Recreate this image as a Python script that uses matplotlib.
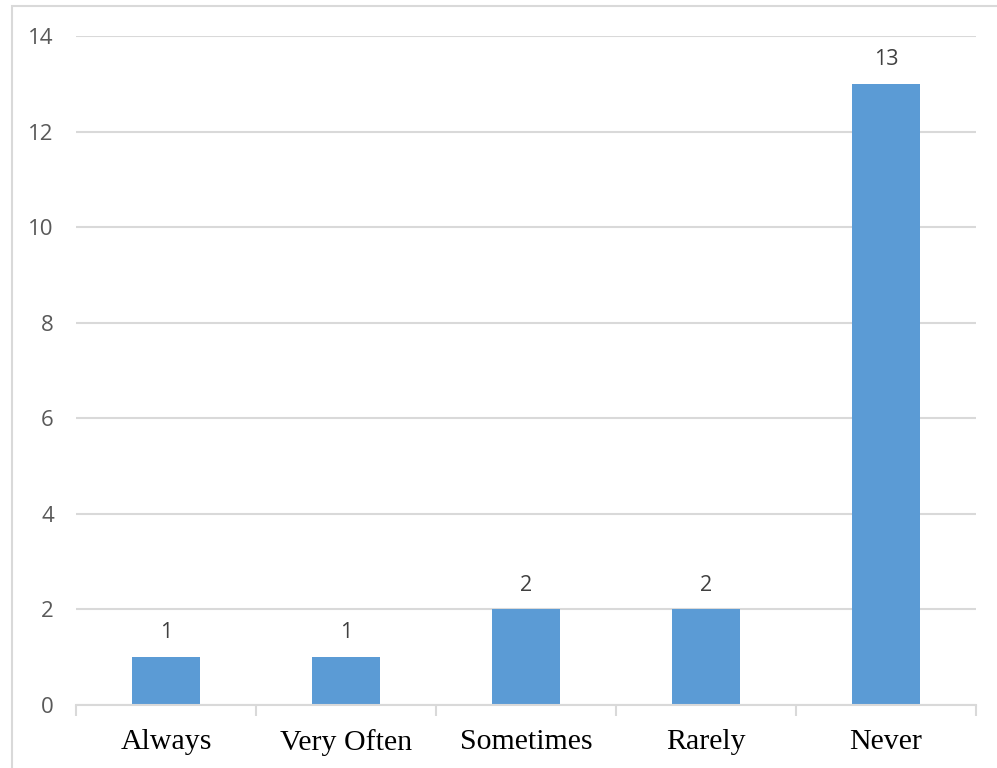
import matplotlib.pyplot as plt
from matplotlib.patches import Rectangle

categories = ["Always", "Very Often", "Sometimes", "Rarely", "Never"]
counts = [1, 1, 2, 2, 13]
y_ticks = [0, 2, 4, 6, 8, 10, 12, 14]

W, H = 997, 768
fig = plt.figure(figsize=(W / 100, H / 100), dpi=100)

# outer chart frame
fig.patches.append(Rectangle((12 / W, -0.01), 1.02, 1 - 6 / H + 0.01,
                             transform=fig.transFigure, fill=False,
                             edgecolor="#D9D9D9", linewidth=1.5))

ax = fig.add_axes([76 / W, 1 - 705 / H, 900 / W, (705 - 36) / H])

x = list(range(len(categories)))
bars = ax.bar(x, counts, width=0.38, color="#5B9BD5", zorder=3)

for xi, v in zip(x, counts):
    ax.annotate(str(v), (xi, v), xytext=(0, 10), textcoords="offset points",
                ha="center", va="bottom", fontsize=15.5, color="#404040",
                family="Open Sans")

ax.set_xlim(-0.5, len(categories) - 0.5)
ax.set_ylim(0, 14)
ax.set_yticks(y_ticks)
ax.set_yticklabels([str(t) for t in y_ticks], family="Open Sans",
                   fontsize=16, color="#595959")
ax.tick_params(axis="y", length=0, pad=16)

ax.set_xticks(x)
ax.set_xticklabels(categories, family="Liberation Serif", fontsize=21.5,
                   color="black")
ax.tick_params(axis="x", which="major", length=0, pad=17)
ax.set_xticks([i - 0.5 for i in range(len(categories) + 1)], minor=True)
ax.tick_params(axis="x", which="minor", length=8, width=1.5, color="#D9D9D9")

ax.yaxis.grid(True, color="#D9D9D9", linewidth=1.5, zorder=0)
for s in ["top", "right", "left"]:
    ax.spines[s].set_visible(False)
ax.spines["bottom"].set_color("#D9D9D9")
ax.spines["bottom"].set_linewidth(1.5)
ax.spines["bottom"].set_zorder(4)

fig.savefig("out.png", dpi=100)
